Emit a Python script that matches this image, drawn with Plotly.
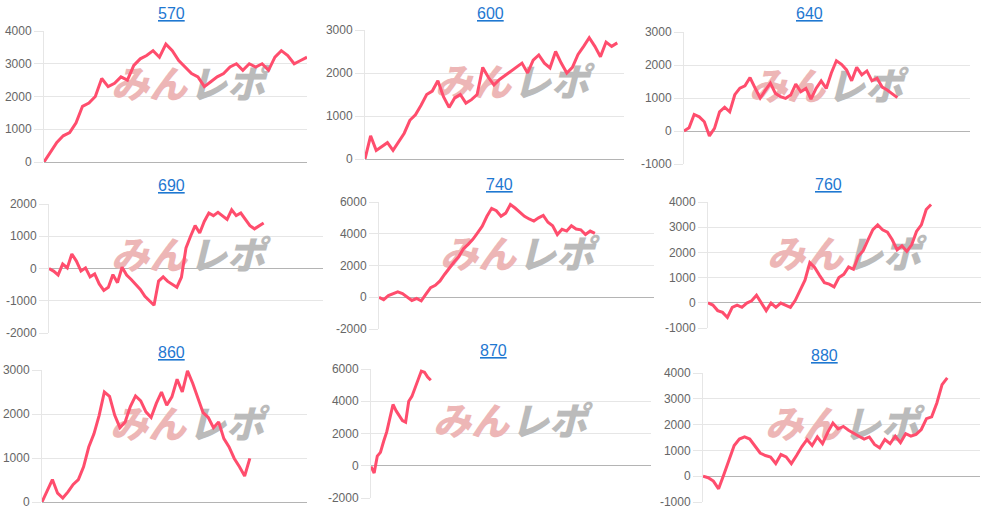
import plotly.graph_objects as go

W, H = 985, 510

names = ["570", "600", "640", "690", "740", "760", "860", "870", "880"]

v570 = [0, 300, 600, 800, 900, 1200, 1700, 1800, 2000, 2550, 2300, 2400, 2600, 2500,
        2950, 3150, 3250, 3400, 3200, 3600, 3400, 3100, 2900, 2700, 2600, 2300, 2450,
        2600, 2700, 2900, 3000, 2800, 3000, 2900, 3000, 2800, 3200, 3400, 3250, 3000,
        3100, 3200]
v600 = [0, 540, 200, 300, 380, 200, 400, 600, 900, 1030, 1250, 1500, 1580, 1820, 1450,
        1200, 1420, 1500, 1300, 1380, 1500, 2130, 1900, 1720, 1850, 1950, 2030, 2130,
        2230, 2000, 2300, 2420, 2230, 2120, 2500, 2230, 2000, 2130, 2430, 2620, 2820,
        2620, 2380, 2720, 2620, 2700]
v640 = [0, 100, 500, 430, 280, -150, 80, 580, 720, 580, 1100, 1300, 1370, 1620, 1300,
        1000, 1230, 1450, 1140, 1040, 990, 1090, 1420, 1190, 1290, 970, 1290, 1520, 1290,
        1760, 2130, 2020, 1850, 1520, 1930, 1700, 1820, 1520, 1600, 1330, 1240, 1120, 1010]
v690 = [0, -80, -200, 140, 20, 450, 230, -80, 20, -260, -170, -480, -680, -580, -190,
        -440, 40, -200, -340, -500, -650, -860, -1010, -1140, -390, -260, -400, -500,
        -580, -270, 640, 1000, 1330, 1100, 1460, 1720, 1640, 1740, 1640, 1520, 1820, 1640,
        1720, 1540, 1330, 1230, 1310, 1410]
v740 = [0, -150, 100, 230, 340, 230, 40, -200, -80, -230, 190, 610, 750, 1030, 1450,
        1870, 2220, 2560, 3060, 3330, 3650, 4060, 4480, 5100, 5600, 5450, 5100, 5300,
        5840, 5620, 5350, 5100, 4930, 4800, 5000, 5150, 4720, 4500, 3950, 4280, 4170,
        4500, 4300, 4250, 3950, 4170, 4020]
v760 = [0, -90, -310, -380, -580, -180, -90, -180, -10, 80, 300, 10, -310, -10, -180,
        -10, -90, -180, 100, 470, 900, 1590, 1400, 1090, 800, 740, 630, 1000, 1130, 1420,
        1330, 1850, 2070, 2500, 2900, 3090, 2900, 2800, 2500, 2100, 2260, 2040, 2300, 2830,
        3090, 3700, 3900]
v860 = [0, 270, 510, 200, 90, 230, 400, 510, 800, 1250, 1550, 1970, 2500, 2400, 1970,
        1690, 1820, 2170, 2410, 2300, 2050, 1920, 2240, 2500, 2200, 2390, 2790, 2500, 2980,
        2700, 2380, 2030, 1920, 1690, 1820, 1440, 1250, 990, 800, 590, 990]
v870 = [-50, -450, 600, 830, 1500, 2100, 2950, 3800, 3400, 3100, 2800, 2700, 4000, 4300,
        4800, 5400, 5870, 5800, 5500, 5300]
v880 = [0, -60, -190, -490, 60, 650, 1190, 1440, 1520, 1440, 1190, 900, 800, 740, 490,
        840, 750, 490, 800, 1140, 1420, 1190, 1520, 1260, 1700, 2060, 1830, 1930, 1780,
        1650, 1550, 1440, 1520, 1230, 1100, 1420, 1260, 1550, 1300, 1650, 1550, 1620, 1810,
        2230, 2300, 2840, 3550, 3810]

series = [v570, v600, v640, v690, v740, v760, v860, v870, v880]
x_slots = [41, 46.2, 56.3, 60, 58.6, 56.3, 51, 89, 53.3]
y_min = [0, 0, -1000, -2000, -2000, -1000, 0, -2000, -1000]
y_max = [4000, 3000, 3000, 2000, 6000, 4000, 3000, 6000, 4000]
y_step = [1000, 1000, 1000, 1000, 2000, 1000, 1000, 2000, 1000]

# panel boxes in pixels: left, right, top, bottom
boxes = [(44, 307, 31, 162), (365, 624, 30, 159), (684, 970, 32, 164),
         (49, 323, 204, 333), (379, 654, 202, 329), (708, 981, 202, 328),
         (42, 307, 370, 502), (371, 651, 369, 498), (703, 980, 373, 502)]
title_pos = [(171, 13), (490, 13), (809, 13), (171, 185), (500, 184), (828, 184),
             (171, 352), (493, 350), (824, 355)]
wm_center = [(188, 88), (512, 86), (826, 90), (188, 259), (517, 258), (844, 258),
             (187, 428), (510, 425), (842, 428)]

LINE = "#ff4d6d"
GRID = "#e6e6e6"
ZERO = "#b4b4b4"
TICKFONT = dict(family="Liberation Sans, Arial, sans-serif", size=12, color="#666666")

fig = go.Figure()
annotations = []

for i, name in enumerate(names):
    sfx = "" if i == 0 else str(i + 1)
    xa, ya = "x" + sfx, "y" + sfx
    L, R, T, B = boxes[i]
    x0, x1 = 0, x_slots[i]
    y0, y1 = y_min[i], y_max[i]

    def to_data(px, py):
        xd = x0 + (px - L) / (R - L) * (x1 - x0)
        yd = y1 - (py - T) / (B - T) * (y1 - y0)
        return xd, yd

    cx, cy = wm_center[i]
    px_, py_ = to_data(cx - 39, cy)
    gx_, gy_ = to_data(cx + 39, cy)
    fig.add_trace(go.Scatter(
        x=[px_, gx_], y=[py_, gy_], mode="text", text=["みん", "レポ"],
        textfont=dict(family="Noto Sans CJK JP", size=38, color=["#edb6b6", "#bbbbbb"],
                      weight=900, style="italic"),
        xaxis=xa, yaxis=ya, hoverinfo="skip", showlegend=False, cliponaxis=False))

    vals = series[i]
    fig.add_trace(go.Scatter(
        x=list(range(len(vals))), y=vals, mode="lines",
        line=dict(color=LINE, width=3), xaxis=xa, yaxis=ya,
        showlegend=False, hoverinfo="skip"))

    tv = list(range(y0, y1 + 1, y_step[i]))
    fig.layout["xaxis" + sfx] = dict(
        domain=[L / W, R / W], range=[x0, x1], showgrid=False, zeroline=False,
        showticklabels=False, showline=False, anchor=ya, fixedrange=True,
        automargin=False)
    fig.layout["yaxis" + sfx] = dict(
        domain=[1 - B / H, 1 - T / H], range=[y0, y1],
        tickvals=tv, ticktext=[str(v) for v in tv],
        showgrid=True, gridcolor=GRID, gridwidth=1,
        zeroline=True, zerolinecolor=ZERO, zerolinewidth=1,
        showline=True, linecolor=GRID, linewidth=1,
        ticks="outside", ticklen=9, tickcolor=GRID, tickfont=TICKFONT,
        anchor=xa, fixedrange=True, automargin=False)

    tx, ty = title_pos[i]
    annotations.append(dict(
        text="<u>" + name + "</u>", x=tx / W, y=1 - ty / H, xref="paper", yref="paper",
        xanchor="center", yanchor="middle", showarrow=False,
        font=dict(family="Liberation Sans, Arial, sans-serif", size=16, color="#1f78d1")))

fig.update_layout(
    template="none",
    width=W, height=H, margin=dict(l=0, r=0, t=0, b=0, autoexpand=False),
    paper_bgcolor="white", plot_bgcolor="white",
    annotations=annotations, showlegend=False, hovermode=False)

fig.write_html("out.html", config={"displayModeBar": False},
               post_script="document.body.style.margin='0px';document.body.style.overflow='hidden';")
